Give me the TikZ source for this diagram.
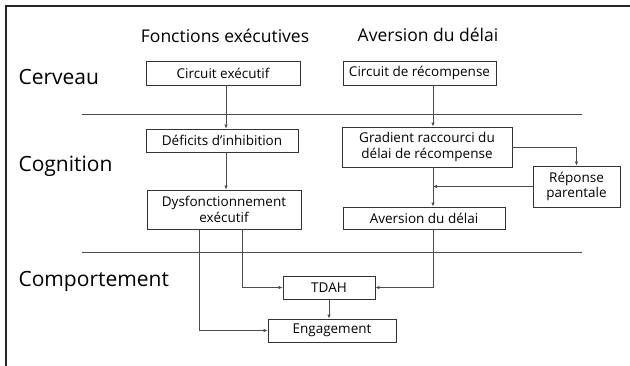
\documentclass[tikz,border=0pt]{standalone}
\usepackage{fontspec}
\setmainfont{Open Sans}
\usetikzlibrary{calc}
\usetikzlibrary{arrows.meta}

\tikzset{
  box/.style={draw=black!80, line width=0.9pt, inner sep=0pt, align=center, font=\fontsize{13.5}{15.5}\selectfont},
  arr/.style={draw=black!70, line width=0.6pt, -{Latex[length=4pt,width=3.5pt]}},
  rowlabel/.style={anchor=west, font=\fontsize{21}{23}\selectfont},
  colhead/.style={font=\fontsize{17.5}{19}\selectfont},
}

\begin{document}
\begin{tikzpicture}[x=1pt,y=-1pt]
      \useasboundingbox (0,0) rectangle (630,366);
      \draw [black!85, line width=1.5pt] (6,366) -- (6,6) -- (630,6);

      \node [colhead] (hfe) at (225,36) {Fonctions exécutives};
      \node [colhead] (had) at (428,35) {Aversion du délai};

      \node [rowlabel] (rcer) at (15,77) {Cerveau};
      \node [rowlabel] (rcog) at (15,166) {Cognition};
      \node [rowlabel] (rcom) at (15,281) {Comportement};

      \draw [black!70, line width=0.8pt] (82,114) -- (582,114);
      \draw [black!70, line width=0.8pt] (82,252) -- (582,252);

      \node [box, minimum width=154, minimum height=24] (circexec) at (223,73) {Circuit exécutif};
      \node [box, minimum width=153, minimum height=24] (circrec) at (419.5,73) {Circuit de récompense};
      \node [box, minimum width=152, minimum height=23] (deficits) at (222,140.5) {Déficits d'inhibition};
      \node [box, minimum width=154, minimum height=39] (dysf) at (224,209.5) {Dysfonctionnement\\exécutif};
      \node [box, minimum width=170, minimum height=40] (grad) at (427,147) {Gradient raccourci du\\délai de récompense};
      \node [box, minimum width=87, minimum height=41] (rep) at (576.5,186.5) {Réponse\\parentale};
      \node [box, minimum width=162, minimum height=22] (avers) at (424,218) {Aversion du délai};
      \node [box, minimum width=92, minimum height=23] (tdah) at (329,287.5) {TDAH};
      \node [box, minimum width=128, minimum height=23] (engag) at (332,330.5) {Engagement};

      \coordinate (rx) at (433,0);

      \draw [arr] ($(circexec.south)+(3,0)$) -- ($(deficits.north)+(4,0)$);
      \draw [arr] (circrec.south -| rx) -- (grad.north -| rx);
      \draw [arr] ($(deficits.south)+(4,0)$) -- ($(dysf.north)+(2,0)$);
      \draw [arr] (grad.east) -| (rep.north);
      \draw [arr] (grad.south -| rx) -- (avers.north -| rx);
      \draw [arr] (rep.west) -- (rep.west -| rx);
      \draw [arr] ($(dysf.south)+(18,0)$) |- (tdah.west);
      \draw [arr] (avers.south -| rx) |- (tdah.east);
      \draw [arr] (tdah.south) -- (tdah.south |- engag.north);
      \draw [arr] ($(dysf.south)+(-25,0)$) |- (engag.west);
\end{tikzpicture}
\end{document}
